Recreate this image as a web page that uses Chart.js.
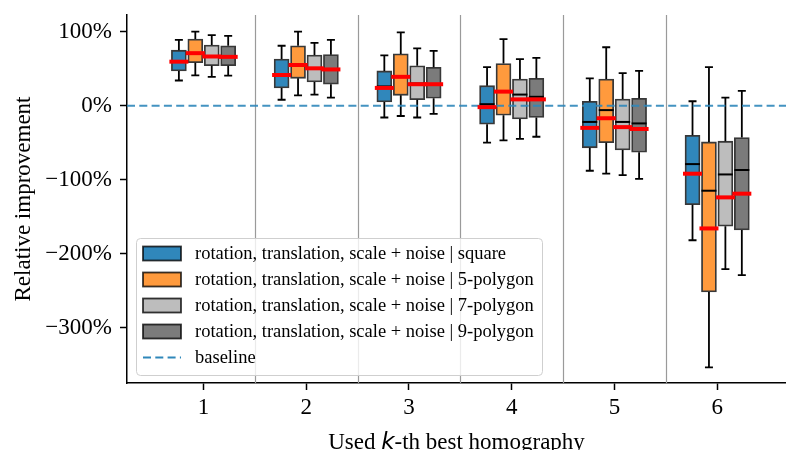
<!DOCTYPE html>
<html><head><meta charset="utf-8">
<script src="https://cdn.jsdelivr.net/npm/chart.js@4.4.1/dist/chart.umd.min.js"></script>
<style>html,body{margin:0;padding:0;background:#fff}canvas{display:block}</style>
</head><body>
<canvas id="c" width="786" height="450"></canvas>
<script>
// ---------------- data ----------------
const categories = [1, 2, 3, 4, 5, 6];
const seriesLabels = [
  'rotation, translation, scale + noise | square',
  'rotation, translation, scale + noise | 5-polygon',
  'rotation, translation, scale + noise | 7-polygon',
  'rotation, translation, scale + noise | 9-polygon'
];
// columns: lower whisker, Q1, median, Q3, upper whisker, mean  (percent)
const squareStats = [
  [34, 47, 60, 75, 89, 59.5],
  [8, 24, 42, 63, 81, 41.5],
  [-16, 5, 26, 47, 68, 24],
  [-50, -25, 2, 27, 52, -2],
  [-88, -57, -22, 6, 37, -30],
  [-182, -134, -79, -40, 6, -92]
];
const pentagonStats = [
  [41, 58, 71, 90, 100, 71],
  [14, 37, 55, 81, 100, 55],
  [-14, 14, 40, 70, 99, 39],
  [-47, -13, 19, 57, 90, 19],
  [-92, -50, -6, 36, 79, -17],
  [-354, -252, -115, -49, 52, -166]
];
const heptagonStats = [
  [39, 54, 66, 82, 95.5, 66.5],
  [15, 32, 50, 68.5, 85, 50.5],
  [-16, 8, 30, 54, 77.5, 29],
  [-45, -18, 15, 36, 63, 8.5],
  [-94, -60, -22, 9, 44, -29],
  [-221, -163, -93, -48, 11, -124]
];
const nonagonStats = [
  [40.5, 54, 66, 81, 94.5, 66],
  [11, 29, 49, 69, 89, 49],
  [-11, 10, 29, 52, 74, 29],
  [-42, -16, 12, 37, 64.5, 8.5],
  [-99, -63, -24, 10, 47, -31.5],
  [-229, -168, -87, -43, 20, -119]
];
const yTickValues = [-300, -200, -100, 0, 100];
const baselineValue = 0;
const baselineLabel = 'baseline';
const separatorPositions = [1.5, 2.5, 3.5, 4.5, 5.5];
const xTitleParts = ['Used ', 'k', '-th best homography'];
const yTitle = 'Relative improvement';

// ---------------- style ----------------
const allStats = [squareStats, pentagonStats, heptagonStats, nonagonStats];
const boxOffsets = [-0.24, -0.08, 0.08, 0.24];
const fillColors = ['#3087bb', '#ff9a3d', '#bdbdbd', '#7b7b7b'];
const edgeColor = 'rgba(0,0,0,0.78)';
const baselineColor = '#2f87ba';
const SERIF = '"Liberation Serif", "Times New Roman", serif';

const fmtPct = v => (v < 0 ? '\u2212' + Math.abs(v) : String(v)) + '%';

const boxPlugin = {
  id: 'boxExtras',
  beforeDatasetsDraw(chart) {
    const {ctx, chartArea: a, scales: {x, y}} = chart;
    ctx.save();
    // separators
    ctx.strokeStyle = '#9a9a9a';
    ctx.lineWidth = 1.2;
    separatorPositions.forEach(p => {
      const px = Math.round(x.getPixelForValue(p)) + 0.5;
      ctx.beginPath(); ctx.moveTo(px, a.top); ctx.lineTo(px, a.bottom); ctx.stroke();
    });
    // whiskers + caps
    ctx.strokeStyle = '#000';
    ctx.lineWidth = 1.8;
    allStats.forEach((stats, si) => {
      stats.forEach((s, ci) => {
        const cx = x.getPixelForValue(categories[ci] + boxOffsets[si]);
        const yLo = y.getPixelForValue(s[0]), yQ1 = y.getPixelForValue(s[1]);
        const yQ3 = y.getPixelForValue(s[3]), yHi = y.getPixelForValue(s[4]);
        ctx.beginPath();
        ctx.moveTo(cx, yQ1); ctx.lineTo(cx, yLo);
        ctx.moveTo(cx, yQ3); ctx.lineTo(cx, yHi);
        ctx.moveTo(cx - 4, yLo); ctx.lineTo(cx + 4, yLo);
        ctx.moveTo(cx - 4, yHi); ctx.lineTo(cx + 4, yHi);
        ctx.stroke();
      });
    });
    ctx.restore();
  },
  afterDatasetsDraw(chart) {
    const {ctx, chartArea: a, scales: {x, y}} = chart;
    ctx.save();
    // baseline
    const by = y.getPixelForValue(baselineValue);
    ctx.strokeStyle = baselineColor;
    ctx.globalAlpha = 0.9;
    ctx.lineWidth = 2;
    ctx.setLineDash([8, 4.3]);
    ctx.beginPath(); ctx.moveTo(a.left, by); ctx.lineTo(a.right, by); ctx.stroke();
    ctx.setLineDash([]);
    ctx.globalAlpha = 1;
    // medians
    ctx.strokeStyle = '#000';
    ctx.lineWidth = 2;
    allStats.forEach((stats, si) => {
      stats.forEach((s, ci) => {
        const cx = x.getPixelForValue(categories[ci] + boxOffsets[si]);
        const ym = y.getPixelForValue(s[2]);
        ctx.beginPath(); ctx.moveTo(cx - 7.5, ym); ctx.lineTo(cx + 7.5, ym); ctx.stroke();
      });
    });
    // means
    ctx.strokeStyle = '#ff0000';
    ctx.lineWidth = 4;
    allStats.forEach((stats, si) => {
      stats.forEach((s, ci) => {
        const cx = x.getPixelForValue(categories[ci] + boxOffsets[si]);
        const ym = y.getPixelForValue(s[5]);
        ctx.beginPath(); ctx.moveTo(cx - 9.5, ym); ctx.lineTo(cx + 9.5, ym); ctx.stroke();
      });
    });
    ctx.restore();
  },
  afterDraw(chart) {
    const {ctx, chartArea: a} = chart;
    ctx.save();
    // legend
    const lx = 136, ly = 238, lw = 406, lh = 137, r = 4;
    ctx.beginPath();
    ctx.roundRect(lx + 0.5, ly + 0.5, lw, lh, r);
    ctx.fillStyle = 'rgba(255,255,255,0.8)';
    ctx.fill();
    ctx.strokeStyle = '#cfcfcf';
    ctx.lineWidth = 1;
    ctx.stroke();
    const rowY = [253.5, 279.5, 305.5, 331.5, 357.5];
    ctx.font = '18.5px ' + SERIF;
    ctx.textBaseline = 'middle';
    ctx.textAlign = 'left';
    seriesLabels.forEach((lab, i) => {
      const yy = rowY[i];
      ctx.fillStyle = fillColors[i];
      ctx.fillRect(143, yy - 7, 38, 14);
      ctx.strokeStyle = edgeColor;
      ctx.lineWidth = 1.8;
      ctx.strokeRect(143, yy - 7, 38, 14);
      ctx.fillStyle = '#000';
      ctx.fillText(lab, 195, yy + 1);
    });
    ctx.strokeStyle = baselineColor;
    ctx.lineWidth = 2;
    ctx.setLineDash([8, 4.3]);
    ctx.beginPath(); ctx.moveTo(143, rowY[4]); ctx.lineTo(181, rowY[4]); ctx.stroke();
    ctx.setLineDash([]);
    ctx.fillStyle = '#000';
    ctx.fillText(baselineLabel, 195, rowY[4] + 1);

    // y title
    ctx.save();
    ctx.translate(24, (a.top + a.bottom) / 2);
    ctx.rotate(-Math.PI / 2);
    ctx.font = '23px ' + SERIF;
    ctx.textAlign = 'center';
    ctx.textBaseline = 'middle';
    ctx.fillText(yTitle, 0, 0);
    ctx.restore();

    // x title (mixed fonts)
    const fonts = ['23px ' + SERIF, 'italic 23px "DejaVu Sans"', '23px ' + SERIF];
    let widths = xTitleParts.map((t, i) => { ctx.font = fonts[i]; return ctx.measureText(t).width; });
    const total = widths.reduce((p, c) => p + c, 0);
    let tx = (a.left + a.right) / 2 - total / 2;
    ctx.textBaseline = 'alphabetic';
    ctx.textAlign = 'left';
    xTitleParts.forEach((t, i) => {
      ctx.font = fonts[i];
      ctx.fillText(t, tx, 449);
      tx += widths[i];
    });
    ctx.restore();
  }
};

const datasets = allStats.map((stats, si) => ({
  label: seriesLabels[si],
  data: stats.map((s, ci) => ({x: categories[ci] + boxOffsets[si], y: [s[1], s[3]]})),
  backgroundColor: fillColors[si],
  borderColor: edgeColor,
  borderWidth: 1.8,
  borderSkipped: false,
  grouped: false,
  barPercentage: 1,
  categoryPercentage: 1,
  maxBarThickness: 15
}));

new Chart(document.getElementById('c'), {
  type: 'bar',
  data: {datasets},
  options: {
    responsive: false,
    animation: false,
    devicePixelRatio: 1,
    layout: {padding: {top: 15, right: 0, left: 0, bottom: 0}},
    plugins: {legend: {display: false}, tooltip: {enabled: false}},
    scales: {
      x: {
        type: 'linear', min: 0.255, max: 6.67, offset: false,
        afterBuildTicks: s => { s.ticks = categories.map(v => ({value: v})); },
        afterFit: s => { s.height = 67; s.paddingLeft = 0; s.paddingRight = 0; },
        ticks: {font: {family: SERIF, size: 23}, color: '#000', padding: 4, maxRotation: 0, autoSkip: false,
                callback: v => String(v)},
        grid: {drawOnChartArea: false, offset: false, color: '#000', tickLength: 7, tickWidth: 1.5},
        border: {display: true, color: '#000', width: 1.5}
      },
      y: {
        type: 'linear', min: -375, max: 122.6,
        afterBuildTicks: s => { s.ticks = yTickValues.map(v => ({value: v})); },
        afterFit: s => { s.width = 127; s.paddingTop = 0; s.paddingBottom = 0; },
        ticks: {font: {family: SERIF, size: 23}, color: '#000', padding: 8, callback: v => fmtPct(v)},
        grid: {drawOnChartArea: false, color: '#000', tickLength: 7, tickWidth: 1.5},
        border: {display: true, color: '#000', width: 1.5}
      }
    }
  },
  plugins: [boxPlugin]
});
</script>
</body></html>
